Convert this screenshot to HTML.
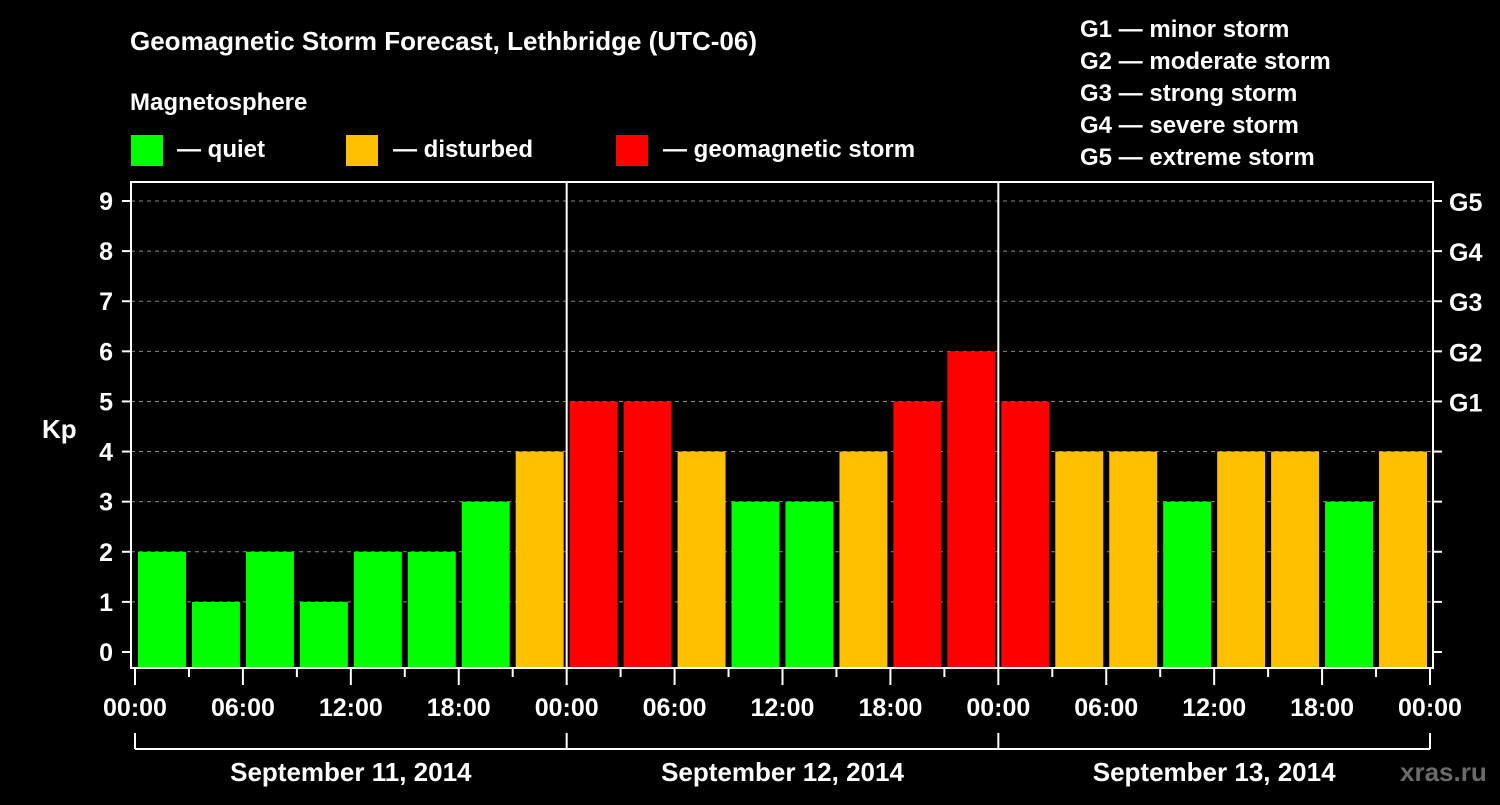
<!DOCTYPE html>
<html><head><meta charset="utf-8"><style>
body{margin:0;background:#000;width:1500px;height:800px;overflow:hidden}
svg text{font-family:"Liberation Sans",Arial,sans-serif;font-weight:bold;fill:#fff}
</style></head><body>
<svg id="c" width="1500" height="800" xmlns="http://www.w3.org/2000/svg">
<text x="130" y="50" font-size="26">Geomagnetic Storm Forecast, Lethbridge (UTC-06)</text>
<text x="130" y="110" font-size="24">Magnetosphere</text>
<g><rect x="131" y="135" width="32" height="31" fill="#00ff00"/><text x="177" y="157" font-size="24">— quiet</text></g>
<g><rect x="346" y="135" width="32" height="31" fill="#ffc000"/><text x="393" y="157" font-size="24">— disturbed</text></g>
<g><rect x="616" y="135" width="32" height="31" fill="#ff0000"/><text x="663" y="157" font-size="24">— geomagnetic storm</text></g>
<g font-size="24">
<text x="1080" y="37">G1 — minor storm</text><text x="1080" y="69">G2 — moderate storm</text><text x="1080" y="101">G3 — strong storm</text><text x="1080" y="133">G4 — severe storm</text><text x="1080" y="165">G5 — extreme storm</text></g>
<text x="42" y="438" font-size="26">Kp</text>
<text x="1400" y="781" font-size="26" fill="#666" style="fill:#6a6a6a">xras.ru</text>
<g id="plot"></g>
</svg>
<script>
const kpValues=[2,1,2,1,2,2,3,4, 5,5,4,3,3,4,5,6, 5,4,4,3,4,4,3,4];
const yTicks=[0,1,2,3,4,5,6,7,8,9];
const gLabels=[[5,'G1'],[6,'G2'],[7,'G3'],[8,'G4'],[9,'G5']];
const hourLabels=['00:00','06:00','12:00','18:00','00:00','06:00','12:00','18:00','00:00','06:00','12:00','18:00','00:00'];
const dayLabels=['September 11, 2014','September 12, 2014','September 13, 2014'];
const NS='http://www.w3.org/2000/svg',P=document.getElementById('plot');
const X0=135,X1=1430,slot=(X1-X0)/kpValues.length;
const xs=i=>X0+i*slot, ys=v=>652-v*50.11;
function mk(t,a,txt){const e=document.createElementNS(NS,t);for(const k in a)e.setAttribute(k,a[k]);if(txt!=null)e.textContent=txt;P.appendChild(e);return e;}
function col(v){return v>=5?'#ff0000':v>=4?'#ffc000':'#00ff00';}
yTicks.forEach(v=>{if(v>0){const g=mk('line',{x1:131,x2:1433,y1:ys(v),y2:ys(v),stroke:'#888','stroke-dasharray':'4,4','stroke-width':1});

}
const t=mk('line',{x1:122,x2:131,y1:ys(v),y2:ys(v),stroke:'#fff','stroke-width':2});


const r=mk('line',{x1:1433,x2:1442,y1:ys(v),y2:ys(v),stroke:'#fff','stroke-width':2});


const l=mk('text',{x:113,y:ys(v)+9,'font-size':25,'text-anchor':'end'},String(v));

});
gLabels.forEach(([v,s])=>{const l=mk('text',{x:1449,y:ys(v)+10,'font-size':25},s);

});
kpValues.forEach((v,i)=>{const b=mk('rect',{x:xs(i)+3,y:ys(v),width:slot-6,height:668-ys(v),fill:col(v)});

});
[1,2].forEach(d=>{const l=mk('line',{x1:xs(d*8),x2:xs(d*8),y1:182,y2:668,stroke:'#fff','stroke-width':2});

});
const f=mk('rect',{x:131,y:182,width:1302,height:486,fill:'none',stroke:'#fff','stroke-width':2});


for(let i=0;i<=kpValues.length;i++){const major=i%2==0;const t=mk('line',{x1:xs(i),x2:xs(i),y1:669,y2:major?685:677,stroke:'#fff','stroke-width':2});

}
hourLabels.forEach((s,i)=>{const l=mk('text',{x:xs(i*2),y:716,'font-size':25,'text-anchor':'middle'},s);

});
const br=mk('line',{x1:X0,x2:X1,y1:749,y2:749,stroke:'#fff','stroke-width':2});


[0,1,2,3].forEach(d=>{const t=mk('line',{x1:xs(d*8),x2:xs(d*8),y1:733,y2:749,stroke:'#fff','stroke-width':2});

});
dayLabels.forEach((s,d)=>{const l=mk('text',{x:xs(d*8+4),y:781,'font-size':26,'text-anchor':'middle'},s);

});
</script>
</body></html>
